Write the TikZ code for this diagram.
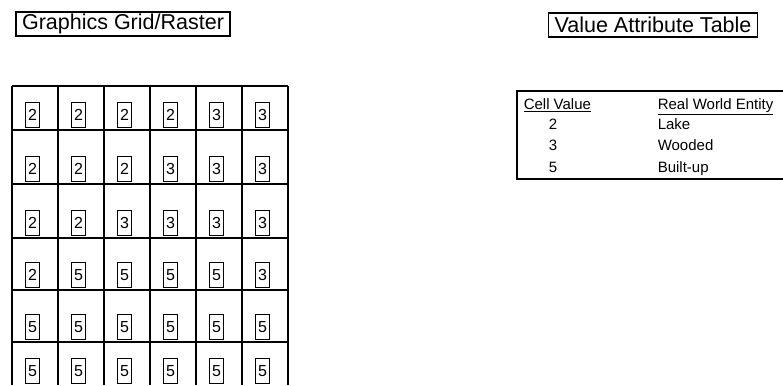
\documentclass[tikz,border=0pt]{standalone}
\usepackage{fontspec}
\setmainfont{Liberation Sans}
\usetikzlibrary{positioning}

\tikzset{
  heading/.style={draw, line width=1.4pt, font=\fontsize{21.5}{24}\selectfont,
    inner xsep=6pt, inner ysep=0pt, minimum height=24pt},
  cellval/.style={draw, line width=1.3pt, minimum width=14pt, minimum height=25pt,
    inner sep=0pt, anchor=south west, font=\fontsize{16}{16}\selectfont},
  vat/.style={font=\fontsize{15}{15}\selectfont, inner sep=0pt, anchor=base west},
}

\begin{document}
\begin{tikzpicture}[x=1pt, y=-1pt, line width=1.5pt]
  \useasboundingbox (0,0) rectangle (783,385);

  \node[heading] (rastertitle) at (123,24) {Graphics Grid/Raster};
  \node[heading] (vattitle) at (653,25) {Value Attribute Table};

  % raster lines
  \foreach \y in {86,130,184,238,290,342}
    \draw (12,\y) -- (288,\y);
  \foreach \x in {12,58,104,150,196,242,288}
    \draw (\x,86) -- (\x,385);

  % one boxed value per cell
  \foreach \vals [count=\r] in {{2,2,2,2,3,3},{2,2,2,3,3,3},{2,2,3,3,3,3},
                                {2,5,5,5,5,3},{5,5,5,5,5,5},{5,5,5,5,5,5}} {
    \pgfmathsetmacro\ybot{{128,182,236,288,340,384}[\r-1]}
    \foreach \v [count=\c] in \vals
      \node[cellval] (cell\r\c) at ({25+46*(\c-1)},\ybot) {\v};
  }

  % attribute table
  \draw[line width=1.2pt] (783,91) -- (517,91) -- (517,179) -- (783,179);
  \node[vat] (valhead) at (523,110) {\underline{Cell Value}};
  \node[vat] (enthead) at (657,110) {\underline{Real World Entity}};
  \node[vat, anchor=base] (val2) at (553,129) {2};
  \node[vat, anchor=base] (val3) at (553,150) {3};
  \node[vat, anchor=base] (val5) at (553,172) {5};
  \node[vat] (ent2) at (657,129) {Lake};
  \node[vat] (ent3) at (657,150) {Wooded};
  \node[vat] (ent5) at (657,172) {Built-up};
\end{tikzpicture}
\end{document}
